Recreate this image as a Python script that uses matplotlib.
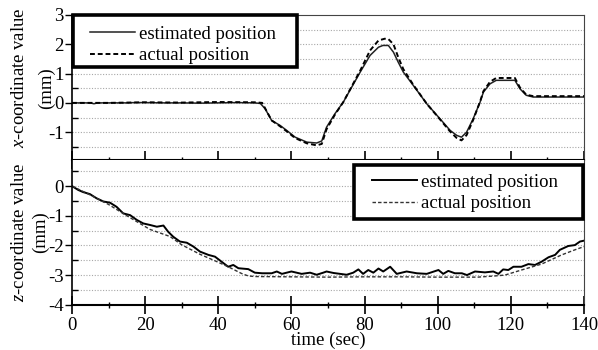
import matplotlib
matplotlib.use("Agg")
import matplotlib.pyplot as plt
from matplotlib.ticker import MultipleLocator
from matplotlib.patches import Rectangle

plt.rcParams['font.family'] = ['Liberation Serif', 'DejaVu Serif']
plt.rcParams['mathtext.fontset'] = 'custom'
plt.rcParams['mathtext.it'] = 'Liberation Serif:italic'
plt.rcParams['mathtext.rm'] = 'Liberation Serif'
plt.rcParams['axes.unicode_minus'] = False

# ---- top panel: x-coordinate ----
t_x_est = [0, 5, 6, 7, 10, 15, 17, 20, 25, 30, 35, 40, 45, 50, 51.5, 52.8, 54.6, 56.9, 58.7, 61, 64.2,
           66.9, 68.3, 69.6, 71.9, 74.2, 76, 78.8, 81.5, 83.8, 85, 86.5, 87.9, 89.2, 90.6, 93.3, 97,
           100.6, 103.4, 105.2, 106.5, 107.9, 109.7, 111.6, 112.5, 114.3, 116, 121.1, 122.5, 124.2,
           126.1, 140]
x_est = [0, 0, -0.03, 0, 0, 0, 0.01, 0.01, 0, 0, -0.01, 0, 0.01, 0, -0.02, -0.2, -0.6, -0.77, -0.94,
         -1.17, -1.34, -1.37, -1.3, -0.83, -0.37, 0.03, 0.43, 1.05, 1.62, 1.9, 1.96, 1.96, 1.73, 1.39,
         1.05, 0.6, -0.03, -0.54, -0.94, -1.11, -1.17, -1.0, -0.54, 0.03, 0.37, 0.65, 0.77, 0.77, 0.48,
         0.26, 0.2, 0.2]
t_x_act = [0, 10, 20, 30, 40, 50, 52, 54.6, 56.9, 58.7, 61, 64.2, 66.9, 68.3, 69.6, 71.9, 74.2, 76,
           78.8, 81.5, 83.8, 85.5, 86.5, 87.9, 89.2, 90.6, 93.3, 97, 100.6, 103.4, 105.2, 106.5,
           107.9, 109.7, 111.6, 112.5, 114.3, 116, 121.1, 122.5, 124.2, 126.1, 140]
x_act = [0, 0, 0.02, 0.01, 0.03, 0.02, 0, -0.6, -0.8, -0.97, -1.2, -1.38, -1.45, -1.4, -0.9, -0.4,
         0.03, 0.45, 1.1, 1.79, 2.13, 2.19, 2.18, 2.0, 1.56, 1.15, 0.62, -0.03, -0.56, -0.98, -1.2,
         -1.28, -1.1, -0.58, 0.05, 0.4, 0.72, 0.85, 0.85, 0.52, 0.28, 0.23, 0.23]

# ---- bottom panel: z-coordinate ----
t_z_est = [0, 1.7, 3, 4.9, 6.7, 8.6, 10.4, 12.2, 14, 15.9, 17.7, 19.5, 21.3, 23.2, 25, 26.3, 27.7,
           29.5, 31.4, 33.2, 35, 37.3, 39.1, 40.9, 42.7, 44.1, 45.5, 48.2, 50, 52, 54.6, 56, 57.4, 60,
           62.8, 65.1, 66.9, 68.7, 69.6, 71.5, 73.3, 75.1, 76.9, 78.3, 79.6, 81, 82.4, 83.8, 85.1, 87,
           88.8, 91.5, 94.3, 97, 100.2, 101.5, 102.9, 104.7, 106.6, 108, 110.2, 112.9, 115.2, 116.6,
           117.9, 119.3, 120.7, 122.9, 124.8, 126.6, 128.4, 130.3, 132.1, 133.4, 135.7, 137.5, 138.9, 140]
z_est = [0, -0.13, -0.2, -0.27, -0.41, -0.52, -0.56, -0.7, -0.92, -0.98, -1.14, -1.26, -1.31, -1.37,
         -1.33, -1.54, -1.71, -1.87, -1.91, -2.04, -2.21, -2.32, -2.38, -2.55, -2.72, -2.66, -2.77,
         -2.8, -2.92, -2.94, -2.94, -2.88, -2.96, -2.88, -2.96, -2.92, -2.99, -2.92, -2.88, -2.93,
         -2.96, -2.99, -2.92, -2.81, -2.96, -2.83, -2.92, -2.78, -2.88, -2.72, -2.96, -2.88, -2.94,
         -2.96, -2.83, -2.96, -2.86, -2.94, -2.94, -3.0, -2.88, -2.91, -2.88, -2.96, -2.81, -2.83,
         -2.72, -2.72, -2.63, -2.66, -2.55, -2.4, -2.32, -2.15, -2.02, -1.99, -1.87, -1.84]
t_z_act = [0, 5, 10, 15, 21.3, 26.8, 30, 35, 39.1, 42.7, 46.4, 48.2, 50, 60, 70, 80, 90, 100, 111,
           115.7, 118.4, 122.9, 128.4, 133.9, 137.5, 140]
z_act = [0, -0.3, -0.62, -1.0, -1.46, -1.7, -1.98, -2.3, -2.52, -2.72, -2.95, -3.03, -3.05, -3.06,
         -3.07, -3.06, -3.06, -3.07, -3.07, -3.03, -3.0, -2.83, -2.63, -2.32, -2.15, -2.04]

legend_labels = ["estimated position", "actual position"]
x_ticks = [0, 20, 40, 60, 80, 100, 120, 140]

W, H = 598, 350
fig = plt.figure(figsize=(W / 100, H / 100), dpi=100)
ax1 = fig.add_axes([72 / W, 1 - 160 / H, 512 / W, 145 / H])
ax2 = fig.add_axes([72 / W, 1 - 304.7 / H, 512 / W, 144.7 / H])

fs = 13.5
grid_kw = dict(color='#a8a8a8', linestyle=(0, (1, 1.5)), linewidth=0.8)
leg_kw = dict(fontsize=fs, frameon=False, borderpad=0, handlelength=2.4,
              handletextpad=0.22, labelspacing=0.22, borderaxespad=0)


def fig_box(x0, y0, x1, y1):
    # box in figure pixels (top-left origin)
    r = Rectangle((x0 / W, 1 - y1 / H), (x1 - x0) / W, (y1 - y0) / H, transform=fig.transFigure,
                  facecolor='white', edgecolor='black', linewidth=2.6, zorder=5)
    fig.patches.append(r)


# top
l1, = ax1.plot(t_x_est, x_est, color='#222222', lw=1.1, label=legend_labels[0])
l2, = ax1.plot(t_x_act, x_act, color='black', lw=1.4, ls=(0, (2.5, 1.5)), label=legend_labels[1])
ax1.set_xlim(0, 140)
ax1.set_ylim(-1.95, 3)
ax1.set_yticks([-1, 0, 1, 2, 3])
ax1.yaxis.set_minor_locator(MultipleLocator(0.5))
ax1.xaxis.set_major_locator(MultipleLocator(20))
ax1.xaxis.set_minor_locator(MultipleLocator(10))
for yv in [-1.5, -1, -0.5, 0, 0.5, 1, 1.5, 2, 2.5]:
    ax1.axhline(yv, zorder=0, **grid_kw)
ax1.tick_params(axis='x', which='major', direction='inout', length=13, width=1.2, labelbottom=False)
ax1.tick_params(axis='x', which='minor', direction='inout', length=5, width=1.0)
ax1.tick_params(axis='y', which='major', direction='out', length=5, width=1.0, labelsize=fs, pad=1)
ax1.tick_params(axis='y', which='minor', direction='in', length=4, width=1.0)
ax1.spines['top'].set_color('#444444')
ax1.spines['right'].set_color('#444444')
ax1.spines['bottom'].set_linewidth(1.5)
ax1.spines['left'].set_linewidth(1.2)

# bottom
l3, = ax2.plot(t_z_est, z_est, color='black', lw=1.4, label=legend_labels[0])
l4, = ax2.plot(t_z_act, z_act, color='#333333', lw=1.0, ls=(0, (2.5, 1.5)), label=legend_labels[1])
ax2.set_xlim(0, 140)
ax2.set_ylim(-4, 0.88)
ax2.set_yticks([-4, -3, -2, -1, 0])
ax2.yaxis.set_minor_locator(MultipleLocator(0.5))
ax2.set_xticks(x_ticks)
ax2.xaxis.set_minor_locator(MultipleLocator(10))
for yv in [-3.5, -3, -2.5, -2, -1.5, -1, -0.5, 0, 0.5]:
    ax2.axhline(yv, zorder=0, **grid_kw)
ax2.tick_params(axis='x', which='major', direction='inout', length=13, width=1.2, labelsize=fs, pad=2)
ax2.tick_params(axis='x', which='minor', direction='inout', length=5, width=1.0)
ax2.tick_params(axis='y', which='major', direction='out', length=5, width=1.0, labelsize=fs, pad=1)
ax2.tick_params(axis='y', which='minor', direction='in', length=4, width=1.0)
ax2.spines['top'].set_visible(False)
ax2.spines['right'].set_color('#444444')
ax2.spines['bottom'].set_linewidth(1.5)
ax2.spines['left'].set_linewidth(1.2)
ax2.set_xlabel("time (sec)", fontsize=fs, labelpad=-1)

# legends with hand-placed boxes
fig_box(73, 15, 297, 67)
leg1 = fig.legend(handles=[l1, l2], loc='center left', bbox_to_anchor=(90 / W, 1 - 45 / H), **leg_kw)
leg1.set_zorder(6)
fig_box(354, 165, 582.5, 219)
leg2 = fig.legend(handles=[l3, l4], loc='center left', bbox_to_anchor=(372 / W, 1 - 193 / H), **leg_kw)
leg2.set_zorder(6)

# y labels
fig.text(20 / W, 1 - 78 / H, r"$\it{x}$-coordinate value", rotation=90, ha='center', va='center', fontsize=fs)
fig.text(46 / W, 1 - 88 / H, "(mm)", rotation=90, ha='center', va='center', fontsize=fs)
fig.text(20 / W, 1 - 232 / H, r"$\it{z}$-coordinate value", rotation=90, ha='center', va='center', fontsize=fs)
fig.text(40 / W, 1 - 232 / H, "(mm)", rotation=90, ha='center', va='center', fontsize=fs)

fig.savefig("out.png", dpi=100)
